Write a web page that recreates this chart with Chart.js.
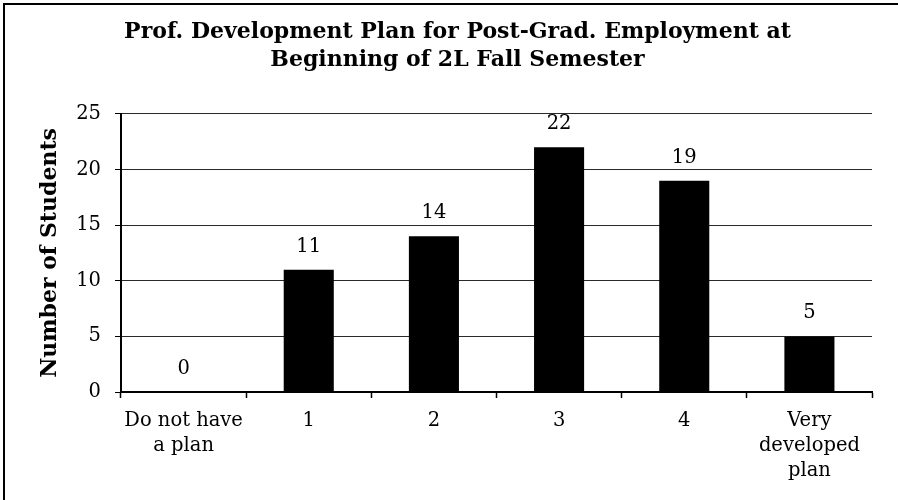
<!DOCTYPE html>
<html>
<head>
<meta charset="utf-8">
<script src="https://cdn.jsdelivr.net/npm/chart.js@4/dist/chart.umd.min.js"></script>
<style>
    body { margin: 0; background: #fff; }
    #wrap { position: relative; width: 898px; height: 500px; overflow: hidden; }
    #frame {
        position: absolute; left: 3px; top: 3px; right: -10px; bottom: -10px;
        border-left: 2px solid #000; border-top: 2px solid #000;
    }
    canvas { position: absolute; left: 0; top: 0; }
</style>
</head>
<body>
<div id="wrap">
    <div id="frame"></div>
    <canvas id="myChart" width="898" height="500"></canvas>
</div>
<script>
const categories = [["Do not have", "a plan"], "1", "2", "3", "4", ["Very", "developed", "plan"]];
const students = [0, 11, 14, 22, 19, 5];
const yTicks = [0, 5, 10, 15, 20, 25];
const chartTitle = ["Prof. Development Plan for Post-Grad. Employment at", "Beginning of 2L Fall Semester"];
const yTitle = "Number of Students";

const serif = "'DejaVu Serif', 'Liberation Serif', serif";

// value above each bar
const barLabels = {
    id: "barLabels",
    afterDatasetsDraw(chart) {
        const ctx = chart.ctx;
        const meta = chart.getDatasetMeta(0);
        ctx.save();
        ctx.font = "19.5px " + serif;
        ctx.fillStyle = "#000";
        ctx.textAlign = "center";
        ctx.textBaseline = "middle";
        meta.data.forEach((bar, i) => {
            ctx.fillText(students[i], bar.x, bar.y - 23);
        });
        ctx.restore();
    }
};

const ctx = document.getElementById("myChart").getContext("2d");

const myChart = new Chart(ctx, {
    type: "bar",
    data: {
        labels: categories,
        datasets: [
            {
                label: yTitle,
                data: students,
                backgroundColor: "#000",
                borderWidth: 0,
                barPercentage: 0.4,
                categoryPercentage: 1,
            },
        ],
    },
    options: {
        responsive: false,
        animation: false,
        devicePixelRatio: 1,
        layout: {
            padding: { left: 43, right: 26, top: 0, bottom: 0 },
        },
        plugins: {
            legend: { display: false },
            tooltip: { enabled: false },
            title: {
                display: true,
                text: chartTitle,
                color: "#000",
                font: { family: serif, size: 22, weight: "bold", lineHeight: 1.27 },
                padding: { top: 18, bottom: 40 },
            },
        },
        scales: {
            x: {
                afterFit: (scale) => { scale.height = 108; },
                grid: {
                    drawOnChartArea: false,
                    tickLength: 6,
                    tickColor: "#000",
                    tickWidth: 1.5,
                },
                border: { color: "#000", width: 2 },
                ticks: {
                    color: "#000",
                    padding: 11,
                    maxRotation: 0,
                    autoSkip: false,
                    font: { family: serif, size: 19.5, lineHeight: 1.27 },
                },
            },
            y: {
                min: 0,
                max: 25,
                afterFit: (scale) => { scale.width = 78; },
                afterBuildTicks: (scale) => { scale.ticks = yTicks.map(v => ({ value: v })); },
                grid: {
                    color: "#2a2a2a",
                    lineWidth: 1,
                    tickLength: 6,
                    tickColor: "#000",
                },
                border: { color: "#000", width: 2 },
                ticks: {
                    color: "#000",
                    padding: 14,
                    font: { family: serif, size: 19.5 },
                },
                title: {
                    display: true,
                    text: yTitle,
                    color: "#000",
                    font: { family: serif, size: 22, weight: "bold", lineHeight: 1.2 },
                    padding: { top: -6, bottom: 0 },
                },
            },
        },
    },
    plugins: [barLabels],
});
</script>
</body>
</html>
